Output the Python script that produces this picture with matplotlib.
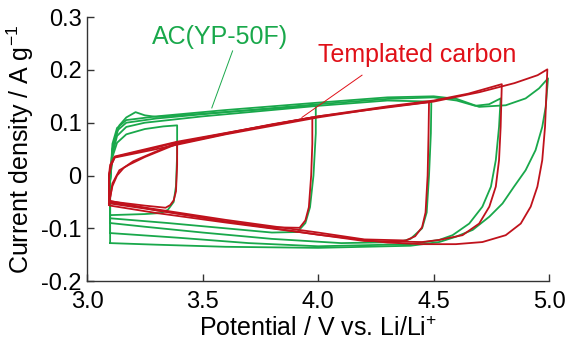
import numpy as np
import matplotlib
matplotlib.use('Agg')
import matplotlib.pyplot as plt

matplotlib.rcParams['font.family'] = ['Liberation Sans', 'DejaVu Sans']
matplotlib.rcParams['mathtext.default'] = 'regular'

# ---------------------------------------------------------------------------
# CV loops, (potential / V, current density / A g-1)
# AC(YP-50F), green
ac_34 = [(3.10, -0.075), (3.10, -0.01), (3.11, 0.035), (3.13, 0.062), (3.17, 0.078),
         (3.25, 0.088), (3.33, 0.093), (3.39, 0.095), (3.39, 0.04), (3.385, -0.02),
         (3.375, -0.05), (3.35, -0.065), (3.32, -0.071), (3.25, -0.073), (3.10, -0.075)]
ac_40 = [(3.10, -0.081), (3.10, -0.01), (3.11, 0.05), (3.14, 0.095), (3.17, 0.11),
         (3.21, 0.12), (3.25, 0.114), (3.30, 0.111), (3.50, 0.117), (3.75, 0.125),
         (3.99, 0.133), (3.99, 0.08), (3.98, 0.0), (3.965, -0.06), (3.945, -0.09),
         (3.91, -0.107), (3.80, -0.108), (3.60, -0.10), (3.35, -0.09), (3.10, -0.081)]
ac_45 = [(3.10, -0.09), (3.10, -0.01), (3.11, 0.04), (3.13, 0.075), (3.17, 0.092),
         (3.25, 0.10), (3.50, 0.112), (4.00, 0.132), (4.30, 0.142), (4.49, 0.140),
         (4.488, 0.08), (4.48, 0.0), (4.47, -0.07), (4.45, -0.10), (4.40, -0.12),
         (4.35, -0.126), (4.10, -0.128), (3.80, -0.12), (3.50, -0.108), (3.25, -0.097),
         (3.10, -0.09)]
ac_48 = [(3.10, -0.109), (3.10, -0.01), (3.11, 0.05), (3.13, 0.085), (3.17, 0.10),
         (3.30, 0.108), (3.60, 0.12), (4.00, 0.135), (4.30, 0.145), (4.50, 0.148),
         (4.60, 0.142), (4.68, 0.132), (4.74, 0.135), (4.79, 0.146), (4.783, 0.092),
         (4.769, 0.029), (4.748, -0.021), (4.711, -0.059), (4.654, -0.091),
         (4.582, -0.113), (4.524, -0.122), (4.40, -0.13), (4.00, -0.134), (3.70, -0.128),
         (3.40, -0.118), (3.10, -0.109)]
ac_50 = [(3.10, -0.128), (3.10, -0.01), (3.11, 0.06), (3.13, 0.09), (3.17, 0.105),
         (3.30, 0.112), (3.60, 0.124), (4.00, 0.138), (4.30, 0.148), (4.50, 0.150),
         (4.60, 0.145), (4.697, 0.130), (4.812, 0.133), (4.898, 0.146), (4.956, 0.165),
         (4.995, 0.184), (4.985, 0.130), (4.970, 0.092), (4.941, 0.048), (4.898, 0.010),
         (4.848, -0.021), (4.798, -0.053), (4.741, -0.078), (4.669, -0.103),
         (4.596, -0.116), (4.524, -0.126), (4.40, -0.133), (4.00, -0.137),
         (3.60, -0.135), (3.30, -0.131), (3.10, -0.128)]

# Templated carbon, red
tc_34 = [(3.095, -0.047), (3.095, 0.0), (3.105, 0.02), (3.12, 0.035), (3.20, 0.043),
         (3.30, 0.053), (3.39, 0.063), (3.39, 0.02), (3.385, -0.03), (3.375, -0.047),
         (3.36, -0.056), (3.34, -0.061), (3.25, -0.057), (3.10, -0.049)]
tc_40 = [(3.095, -0.052), (3.11, -0.02), (3.13, 0.0), (3.16, 0.015), (3.20, 0.027),
         (3.28, 0.042), (3.39, 0.062), (3.60, 0.08), (3.80, 0.097), (3.975, 0.11),
         (3.975, 0.06), (3.97, 0.0), (3.96, -0.06), (3.945, -0.085), (3.92, -0.099),
         (3.80, -0.098), (3.60, -0.087), (3.35, -0.069), (3.10, -0.053)]
tc_45 = [(3.095, -0.055), (3.095, 0.0), (3.105, 0.02), (3.12, 0.034), (3.30, 0.05),
         (3.60, 0.078), (4.00, 0.11), (4.30, 0.13), (4.48, 0.139), (4.478, 0.08),
         (4.474, 0.0), (4.465, -0.07), (4.45, -0.098), (4.42, -0.115), (4.38, -0.123),
         (4.20, -0.121), (4.00, -0.108), (3.60, -0.084), (3.30, -0.064), (3.10, -0.051)]
tc_48 = [(3.095, -0.056), (3.11, -0.015), (3.14, 0.01), (3.18, 0.02), (3.25, 0.035),
         (3.39, 0.06), (3.70, 0.088), (4.00, 0.112), (4.30, 0.131), (4.50, 0.142),
         (4.65, 0.155), (4.795, 0.173), (4.79, 0.092), (4.783, 0.029), (4.769, -0.021),
         (4.741, -0.059), (4.697, -0.091), (4.625, -0.113), (4.524, -0.122),
         (4.45, -0.126), (4.20, -0.124), (3.90, -0.106), (3.60, -0.089), (3.30, -0.071),
         (3.10, -0.057)]
tc_50 = [(3.095, -0.045), (3.095, 0.0), (3.10, 0.02), (3.12, 0.036), (3.39, 0.064),
         (4.00, 0.112), (4.50, 0.14), (4.70, 0.158), (4.85, 0.175), (4.95, 0.190),
         (4.992, 0.201), (4.988, 0.155), (4.982, 0.092), (4.970, 0.029), (4.949, -0.021),
         (4.920, -0.059), (4.877, -0.091), (4.812, -0.113), (4.711, -0.126),
         (4.596, -0.130), (4.45, -0.130), (4.30, -0.127), (4.00, -0.112), (3.60, -0.087),
         (3.30, -0.066), (3.10, -0.048)]

ac_loops = [ac_34, ac_40, ac_45, ac_48, ac_50]
tc_loops = [tc_34, tc_40, tc_45, tc_48, tc_50]

xticks = [3.0, 3.5, 4.0, 4.5, 5.0]
xticklabels = ['3.0', '3.5', '4.0', '4.5', '5.0']
yticks = [-0.2, -0.1, 0.0, 0.1, 0.2, 0.3]
yticklabels = ['-0.2', '-0.1', '0', '0.1', '0.2', '0.3']

green = '#19a84b'
red = '#c0121c'
red_text = '#e01018'

# ---------------------------------------------------------------------------
fig = plt.figure(figsize=(5.65, 3.42), dpi=100)
ax = fig.add_axes([0.154, 0.178, 0.818, 0.772])

for loop in ac_loops:
    v, i = np.array(loop).T
    ax.plot(v, i, '-', color=green, lw=1.3)
for loop in tc_loops:
    v, i = np.array(loop).T
    ax.plot(v, i, '-', color=red, lw=1.3)

## labels with leader lines
ax.plot([3.63, 3.54], [0.236, 0.128], '-', color=green, lw=0.7)
ax.plot([4.19, 3.93], [0.19, 0.11], '-', color=red_text, lw=0.7)
ax.text(3.28, 0.262, 'AC(YP-50F)', color=green, fontsize=18, ha='left', va='center')
ax.text(4.0, 0.228, 'Templated carbon', color=red_text, fontsize=18, ha='left', va='center')

ax.set_xlim(3.0, 5.0)
ax.set_ylim(-0.2, 0.3)
ax.set_xticks(xticks)
ax.set_xticklabels(xticklabels)
ax.set_yticks(yticks)
ax.set_yticklabels(yticklabels)
ax.tick_params(direction='in', length=5, width=1, labelsize=17, color='#333333')
ax.tick_params(axis='x', pad=7)
ax.tick_params(axis='y', pad=4)

ax.spines['top'].set_visible(False)
ax.spines['right'].set_visible(False)
for s in ['left', 'bottom']:
    ax.spines[s].set_color('#333333')
    ax.spines[s].set_linewidth(1)

ax.set_xlabel('Potential / V vs. Li/Li$^{+}$', fontsize=18)
ax.set_ylabel('Current density / A g$^{-1}$', fontsize=18)
ax.xaxis.set_label_coords(0.5, -0.135)
ax.yaxis.set_label_coords(-0.11, 0.5)

plt.savefig('out.png', dpi=100)
plt.close()
